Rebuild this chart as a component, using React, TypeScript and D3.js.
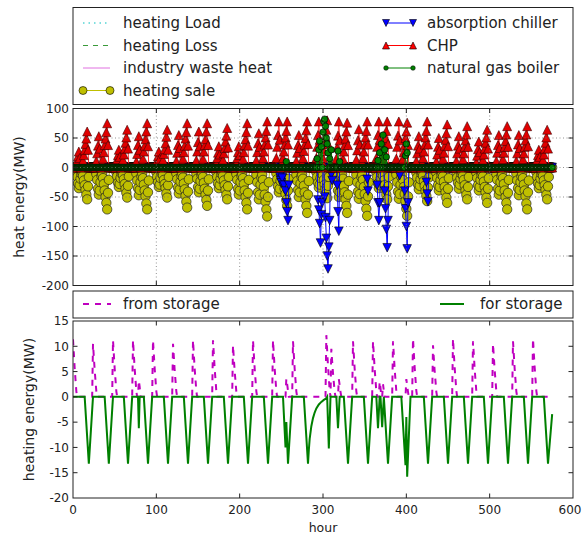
import React from 'react';
import * as d3 from 'd3';

// ---------- data ----------
const HOURS = 576;
const X_TICKS = [0, 100, 200, 300, 400, 500, 600];
const Y_TOP_TICKS = [100, 50, 0, -50, -100, -150, -200];
const Y_BOT_TICKS = [15, 10, 5, 0, -5, -10, -15, -20];

// CHP heat output, one row of 24 hourly values per day (MW)
const CHP_BY_DAY = [
  [0,0,0,0,5,12,19,27,16,0,0,8,12,21,30,40,49,61,30,0,0,0,0,0],
  [0,0,0,0,11,24,37,53,32,0,0,8,15,26,38,49,60,75,38,0,0,0,0,0],
  [0,0,0,0,6,14,21,30,18,0,0,7,13,22,32,42,51,64,32,0,0,0,0,0],
  [0,0,0,0,10,23,38,53,30,0,0,9,15,27,37,48,61,75,36,0,0,0,0,0],
  [0,0,0,0,6,12,19,27,15,0,0,8,13,23,31,41,52,64,30,0,0,0,0,0],
  [0,0,0,0,11,25,38,55,33,0,0,9,15,26,37,49,60,75,37,0,0,0,0,0],
  [0,0,0,0,12,27,43,61,36,0,0,8,15,27,38,48,61,75,38,0,0,0,0,0],
  [0,0,0,0,7,16,25,36,22,0,0,7,13,24,33,44,54,67,34,0,0,0,0,0],
  [0,0,0,0,7,16,26,36,21,0,0,8,15,26,38,48,60,75,37,0,0,0,0,0],
  [0,0,0,0,12,26,41,58,35,0,0,9,16,27,39,51,62,78,39,0,0,0,0,0],
  [0,0,0,0,16,35,55,78,47,0,0,9,16,27,39,51,62,78,39,0,0,0,0,0],
  [0,0,0,0,11,25,38,55,33,0,0,8,16,28,39,50,63,78,40,0,0,0,0,0],
  [0,0,0,0,16,35,55,78,47,0,0,9,16,28,40,52,64,80,40,0,0,0,0,0],
  [0,0,0,0,15,34,54,78,46,0,0,8,15,27,38,49,61,76,38,0,0,0,0,0],
  [0,0,0,0,13,29,46,65,39,0,0,9,16,27,39,51,62,78,39,0,0,0,0,0],
  [0,0,0,0,16,35,55,78,47,0,0,8,16,27,39,50,62,78,40,0,0,0,0,0],
  [0,0,0,0,15,35,54,78,46,0,0,9,15,26,38,50,61,76,38,0,0,0,0,0],
  [0,0,0,0,11,24,37,53,32,0,0,8,16,27,39,51,62,78,39,0,0,0,0,0],
  [0,0,0,0,10,22,35,50,30,0,0,8,15,25,37,47,58,73,36,0,0,0,0,0],
  [0,0,0,0,11,24,37,53,32,0,0,7,14,24,35,46,56,70,35,0,0,0,0,0],
  [0,0,0,0,9,20,31,44,26,0,0,8,13,22,32,42,51,64,32,0,0,0,0,0],
  [0,0,0,0,11,25,38,55,33,0,0,9,14,25,35,45,56,70,35,0,0,0,0,0],
  [0,0,0,0,11,24,39,55,33,0,0,8,14,24,35,46,56,70,36,0,0,0,0,0],
  [0,0,0,0,6,13,21,30,18,0,0,8,13,22,32,42,51,64,32,0,0,0,0,0],
];

// heating sale, one row of 24 hourly values per day (MW)
const SALE_BY_DAY = [
  [0,0,0,0,-8,-16,-27,-35,-30,-19,-11,-8,-14,-22,-30,-38,-46,-54,-32,-16,0,0,0,0],
  [0,0,0,0,-11,-21,-36,-46,-39,-25,-14,-11,-18,-28,-39,-50,-60,-71,-43,-21,0,0,0,0],
  [0,0,0,0,-8,-15,-26,-33,-28,-18,-10,-8,-13,-20,-28,-36,-43,-51,-31,-15,0,0,0,0],
  [0,0,0,0,-10,-22,-35,-47,-38,-25,-15,-10,-18,-29,-39,-49,-61,-71,-42,-22,0,0,0,0],
  [0,0,0,0,-8,-16,-25,-33,-29,-18,-10,-8,-13,-21,-28,-35,-44,-51,-30,-16,0,0,0,0],
  [0,0,0,0,-10,-20,-34,-44,-37,-24,-14,-10,-17,-27,-37,-48,-58,-68,-41,-20,0,0,0,0],
  [0,0,0,0,-10,-19,-33,-42,-36,-23,-13,-10,-16,-26,-36,-46,-55,-65,-39,-20,0,0,0,0],
  [0,0,0,0,-8,-16,-27,-35,-30,-19,-11,-8,-14,-22,-30,-38,-46,-54,-32,-16,0,0,0,0],
  [0,0,0,0,-11,-21,-36,-46,-39,-25,-14,-11,-18,-28,-39,-50,-60,-71,-43,-21,0,0,0,0],
  [0,0,0,0,-12,-25,-42,-54,-46,-29,-17,-12,-21,-33,-46,-58,-71,-83,-50,-25,0,0,0,0],
  [0,0,0,0,-10,-20,-32,-42,-36,-23,-13,-10,-16,-26,-36,-45,-55,-65,-39,-19,0,0,0,0],
  [0,0,0,0,-12,-23,-38,-50,-42,-27,-15,-12,-19,-31,-42,-54,-65,-77,-46,-23,0,0,0,0],
  [0,0,0,0,-8,-16,-26,-34,-29,-18,-10,-8,-13,-21,-29,-36,-44,-52,-31,-16,0,0,0,0],
  [0,0,0,0,-12,-23,-39,-50,-42,-27,-15,-12,-19,-31,-42,-54,-65,-77,-46,-23,0,0,0,0],
  [0,0,0,0,-12,-25,-41,-53,-45,-29,-16,-12,-21,-33,-45,-57,-70,-82,-49,-25,0,0,0,0],
  [0,0,0,0,-8,-16,-27,-35,-30,-19,-11,-8,-14,-22,-30,-38,-46,-54,-32,-16,0,0,0,0],
  [0,0,0,0,-12,-25,-41,-53,-45,-29,-16,-12,-21,-33,-45,-57,-70,-82,-49,-25,0,0,0,0],
  [0,0,0,0,-9,-17,-29,-37,-31,-20,-11,-9,-14,-23,-31,-40,-48,-57,-34,-17,0,0,0,0],
  [0,0,0,0,-9,-18,-30,-39,-33,-21,-12,-9,-15,-24,-33,-42,-51,-60,-36,-18,0,0,0,0],
  [0,0,0,0,-8,-17,-26,-36,-29,-19,-11,-8,-14,-21,-30,-39,-46,-54,-33,-16,0,0,0,0],
  [0,0,0,0,-9,-18,-30,-39,-33,-21,-12,-9,-15,-24,-33,-42,-51,-60,-36,-18,0,0,0,0],
  [0,0,0,0,-11,-21,-36,-46,-39,-25,-14,-11,-18,-28,-39,-50,-60,-71,-43,-21,0,0,0,0],
  [0,0,0,0,-10,-22,-35,-47,-38,-25,-15,-10,-18,-29,-39,-49,-61,-71,-42,-22,0,0,0,0],
  [0,0,0,0,-8,-16,-27,-35,-30,-19,-11,-8,-14,-22,-30,-38,-46,-54,-32,-16,0,0,0,0],
];

// absorption chiller: hours with non-zero values [hour, MW]; zero otherwise
const CHILLER_NONZERO = [
  [247,-8],[248,-15],[249,-22],[250,-26],[251,-18],[253,-30],[255,-40],[256,-60],[257,-75],[258,-90],[259,-30],
  [294,-55],[295,-72],[296,-95],[297,-128],[298,-80],[299,-60],
  [302,-50],[303,-85],[304,-120],[305,-150],[306,-172],[307,-135],[308,-90],
  [310,-12],[311,-22],
  [317,-30],[318,-75],[319,-108],
  [353,-20],[354,-40],
  [365,-30],[366,-60],[367,-90],[368,-60],
  [374,-40],[375,-70],[376,-105],[377,-136],[378,-90],
  [391,-8],[392,-14],
  [398,-40],[399,-70],[400,-100],[401,-138],[402,-60],
  [424,-25],[425,-45],[426,-58],
];

// natural gas boiler: hours with non-zero values [hour, MW]; zero otherwise
const BOILER_NONZERO = [
  [256,10],[293,15],[295,30],[296,45],[298,35],[300,60],[301,78],[302,82],[303,70],[304,50],
  [305,40],[306,25],[308,15],[310,30],[318,28],[320,10],
  [366,12],[368,25],[370,40],[372,55],[374,30],[376,18],
  [399,20],[400,40],[401,25],
];

// heating Load / heating Loss / industry waste heat (flat at zero, hidden)
const LOAD_SERIES = [[0,0],[575,0]];
const LOSS_SERIES = [[0,0],[575,0]];
const WASTE_SERIES = [[0,0],[575,0]];

// storage lines [hour, MW]
const FROM_STORAGE = [
  [0,11.4],[1,8.6],[2,5.7],[3,3.4],[4,1.1],[5,0],
  [23,0],[24,10.5],[25,7.9],[26,5.3],[27,3.2],[28,1.1],[29,0],
  [47,0],[48,11.2],[49,8.4],[50,5.6],[51,3.4],[52,1.1],[53,0],
  [71,0],[72,11.2],[73,8.4],[74,5.6],[75,3.4],[76,1.1],[77,0],
  [78,0],[79,3.2],[80,2],[81,0],
  [95,0],[96,11.2],[97,8.4],[98,5.6],[99,3.4],[100,1.1],[101,0],
  [119,0],[120,10.5],[121,7.9],[122,5.3],[123,3.2],[124,1.1],[125,0],
  [143,0],[144,11.2],[145,8.4],[146,5.6],[147,3.4],[148,1.1],[149,0],
  [167,0],[168,11.2],[169,8.4],[170,5.6],[171,3.4],[172,1.1],[173,0],
  [191,0],[192,10.2],[193,7.6],[194,5.1],[195,3.1],[196,1],[197,0],
  [215,0],[216,11.2],[217,8.4],[218,5.6],[219,3.4],[220,1.1],[221,0],
  [239,0],[240,11.2],[241,8.4],[242,5.6],[243,3.4],[244,1.1],[245,0],
  [255,0],[256,3.6],[257,2.5],[258,1.2],[259,0],
  [263,0],[264,11],[265,8.3],[266,5.5],[267,3.3],[268,1.1],[269,0],
  [303,0],[304,12.2],[305,9.2],[306,6.1],[307,3.7],[308,1.2],[309,0],
  [310,9.5],[311,7],[312,4.7],[313,2.8],[314,1],[315,0],
  [318,0],[319,3.5],[320,2.3],[321,1],[322,0],
  [335,0],[336,11],[337,8.3],[338,5.5],[339,3.3],[340,1.1],[341,0],
  [359,0],[360,11],[361,8.3],[362,5.5],[363,3.3],[364,1.1],[365,0],
  [367,0],[368,3],[369,1.8],[370,0],[371,0],[372,2.5],[373,1.2],[374,0],
  [383,0],[384,11],[385,8.3],[386,5.5],[387,3.3],[388,1.1],[389,0],
  [399,0],[400,3.5],[401,2.2],[402,1],[403,0],
  [407,0],[408,11.5],[409,8.6],[410,5.8],[411,3.5],[412,1.2],[413,0],
  [431,0],[432,10.2],[433,7.6],[434,5.1],[435,3.1],[436,1],[437,0],
  [455,0],[456,11.5],[457,8.6],[458,5.8],[459,3.5],[460,1.2],[461,0],
  [479,0],[480,11],[481,8.3],[482,5.5],[483,3.3],[484,1.1],[485,0],
  [503,0],[504,10.5],[505,7.9],[506,5.3],[507,3.2],[508,1.1],[509,0],
  [527,0],[528,11],[529,8.3],[530,5.5],[531,3.3],[532,1.1],[533,0],
  [551,0],[552,11.5],[553,8.6],[554,5.8],[555,3.5],[556,1.2],[557,0],
  [574,0],
];

const FOR_STORAGE = [
  [0,0],[14,0],[19,-13.2],[24,0],
  [38,0],[43,-13.2],[48,0],
  [61,0],[66,-13.2],[71,0],
  [78,0],[79,-6.2],[80,0],
  [85,0],[90,-13.2],[95,0],
  [109,0],[114,-13.2],[119,0],
  [133,0],[138,-13.2],[143,0],
  [157,0],[162,-13.2],[167,0],
  [181,0],[186,-13.2],[191,0],
  [205,0],[210,-13.2],[215,0],
  [229,0],[234,-13.2],[239,0],
  [252,0],[255,-10],[256,-5],[258,-13.2],[263,0],
  [277,0],[282,-13.2],[283,-10.5],[284,-8.3],[286,-5.8],[288,-4.2],[290,-3.1],[292,-2.3],
  [295,-1.5],[298,-1],[301,-0.6],[304,-0.3],[305,0],[307,-10.2],[309,0],
  [316,0],[318,-6.2],[320,0],
  [325,0],[330,-13.2],[335,0],
  [349,0],[354,-13.2],[359,0],
  [364,0],[366,-6.2],[368,0],
  [369,0],[371,-6],[373,0],[378,-13.2],[383,0],
  [394,0],[399,-13.5],[400,-4],[401,-15.8],[405,0],
  [421,0],[426,-13.2],[431,0],
  [445,0],[450,-13.2],[455,0],
  [469,0],[474,-13.2],[479,0],
  [493,0],[498,-13.2],[503,0],
  [517,0],[522,-13.2],[527,0],
  [541,0],[546,-13.2],[551,0],
  [565,0],[570,-13.2],[575,-3.4],
];

// ---------- styles ----------
const FONT = '"DejaVu Sans", sans-serif';
const C_YEL = '#bfbf00';
const C_RED = '#ff0000';
const C_BLUE = '#0000ff';
const C_GREEN = '#008000';
const C_CYAN = '#00bfbf';
const C_MAG = '#bf00bf';

const X0 = 73, X1 = 573;
const TOP_Y0 = 108.5, TOP_Y1 = 285.5;
const BOT_Y0 = 321, BOT_Y1 = 498;

function triUp(cx: number, cy: number, s: number) {
  return `M${cx},${cy - s}L${cx - s},${cy + s}L${cx + s},${cy + s}Z`;
}
function triDown(cx: number, cy: number, s: number) {
  return `M${cx},${cy + s}L${cx - s},${cy - s}L${cx + s},${cy - s}Z`;
}

export default function App() {
  const x = d3.scaleLinear().domain([0, 600]).range([X0, X1]);
  const yT = d3.scaleLinear().domain([-200, 100]).range([TOP_Y1, TOP_Y0]);
  const yB = d3.scaleLinear().domain([-20, 15]).range([BOT_Y1, BOT_Y0]);

  const chp = CHP_BY_DAY.flat().map((v, i) => [i, v]);
  const sale = SALE_BY_DAY.flat().map((v, i) => [i, v]);
  const chMap = new Map(CHILLER_NONZERO.map(([h, v]) => [h, v]));
  const boMap = new Map(BOILER_NONZERO.map(([h, v]) => [h, v]));
  const chiller = d3.range(HOURS).map((h) => [h, chMap.get(h) ?? 0]);
  const boiler = d3.range(HOURS).map((h) => [h, boMap.get(h) ?? 0]);

  const lineT = d3.line<number[]>().x((d) => x(d[0])).y((d) => yT(d[1]));
  const lineB = d3.line<number[]>().x((d) => x(d[0])).y((d) => yB(d[1]));

  const tick = 4.5;

  const frame = (y0: number, y1: number, yScale: any, yticks: number[], grid: boolean, key: string) => (
    <g key={key}>
      {grid && (
        <g stroke="#777" strokeWidth={0.8} strokeDasharray="1,2.5">
          {X_TICKS.slice(1, -1).map((t) => (
            <line key={'gx' + t} x1={x(t)} x2={x(t)} y1={y0} y2={y1} />
          ))}
          {yticks.slice(1, -1).map((t) => (
            <line key={'gy' + t} x1={X0} x2={X1} y1={yScale(t)} y2={yScale(t)} />
          ))}
        </g>
      )}
      <rect x={X0} y={y0} width={X1 - X0} height={y1 - y0} fill="none" stroke="#222" strokeWidth={1} />
      <g stroke="#222" strokeWidth={1}>
        {X_TICKS.slice(1, -1).map((t) => (
          <g key={'tx' + t}>
            <line x1={x(t)} x2={x(t)} y1={y1} y2={y1 - tick} />
            <line x1={x(t)} x2={x(t)} y1={y0} y2={y0 + tick} />
          </g>
        ))}
        {yticks.slice(1, -1).map((t) => (
          <g key={'ty' + t}>
            <line x1={X0} x2={X0 + tick} y1={yScale(t)} y2={yScale(t)} />
            <line x1={X1} x2={X1 - tick} y1={yScale(t)} y2={yScale(t)} />
          </g>
        ))}
      </g>
      <g fontFamily={FONT} fontSize={12} fill="#222" textAnchor="end">
        {yticks.map((t) => (
          <text key={'ly' + t} x={X0 - 4} y={yScale(t) + 4.3}>
            {t < 0 ? '-' + Math.abs(t) : String(t)}
          </text>
        ))}
      </g>
    </g>
  );

  return (
    <div style={{ position: 'absolute', left: 0, top: 0 }}>
      <svg width={582} height={535} viewBox="0 0 582 535" style={{ display: 'block', background: '#fff' }}>
        <defs>
          <clipPath id="clipTop">
            <rect x={X0} y={TOP_Y0} width={X1 - X0} height={TOP_Y1 - TOP_Y0} />
          </clipPath>
          <clipPath id="clipBot">
            <rect x={X0} y={BOT_Y0} width={X1 - X0} height={BOT_Y1 - BOT_Y0} />
          </clipPath>
        </defs>
        <rect x={0} y={0} width={582} height={535} fill="#fff" />

        {/* ---------- top axes data ---------- */}
        <g clipPath="url(#clipTop)">
          <path d={lineT(LOAD_SERIES) || ''} fill="none" stroke={C_CYAN} strokeWidth={1} strokeDasharray="4,2,1,2" />
          <path d={lineT(LOSS_SERIES) || ''} fill="none" stroke={C_GREEN} strokeWidth={1} strokeDasharray="5,5" />
          <path d={lineT(WASTE_SERIES) || ''} fill="none" stroke={C_MAG} strokeWidth={1} />

          <path d={lineT(sale) || ''} fill="none" stroke={C_YEL} strokeWidth={1} />
          <g fill={C_YEL} stroke="#222" strokeWidth={0.7}>
            {sale.map((d) => (
              <circle key={'s' + d[0]} cx={x(d[0])} cy={yT(d[1])} r={4.7} />
            ))}
          </g>

          <path d={lineT(chiller) || ''} fill="none" stroke={C_BLUE} strokeWidth={1} />
          <g fill={C_BLUE} stroke="#000" strokeWidth={0.6}>
            {chiller.map((d) => (
              <path key={'c' + d[0]} d={triDown(x(d[0]), yT(d[1]), 4.3)} />
            ))}
          </g>

          <path d={lineT(chp) || ''} fill="none" stroke="#ff3030" strokeWidth={1} />
          <g fill="#e00000" stroke="#400000" strokeWidth={0.6}>
            {chp.map((d) => (
              <path key={'p' + d[0]} d={triUp(x(d[0]), yT(d[1]), 4.5)} />
            ))}
          </g>

          <path d={lineT(boiler) || ''} fill="none" stroke={C_GREEN} strokeWidth={1} />
          <g fill={C_GREEN} stroke="#000" strokeWidth={0.7}>
            {boiler.map((d) => (
              <circle key={'b' + d[0]} cx={x(d[0])} cy={yT(d[1])} r={3.2} />
            ))}
          </g>
        </g>
        {frame(TOP_Y0, TOP_Y1, yT, Y_TOP_TICKS, true, 'ftop')}

        {/* ---------- bottom axes data ---------- */}
        <g clipPath="url(#clipBot)">
          <path d={lineB(FROM_STORAGE) || ''} fill="none" stroke={C_MAG} strokeWidth={2} strokeDasharray="6,6" />
          <path d={lineB(FOR_STORAGE) || ''} fill="none" stroke={C_GREEN} strokeWidth={2} />
        </g>
        {frame(BOT_Y0, BOT_Y1, yB, Y_BOT_TICKS, false, 'fbot')}

        {/* x tick labels */}
        <g fontFamily={FONT} fontSize={12} fill="#222" textAnchor="middle">
          {X_TICKS.map((t) => (
            <text key={'lx' + t} x={t === 600 ? x(t) - 3 : x(t)} y={514}>{t}</text>
          ))}
        </g>
        <text x={(X0 + X1) / 2} y={532} fontFamily={FONT} fontSize={12.5} fill="#222" textAnchor="middle">hour</text>

        {/* y labels */}
        <text transform={`translate(24,${(TOP_Y0 + TOP_Y1) / 2}) rotate(-90)`} fontFamily={FONT} fontSize={14} fill="#222" textAnchor="middle">heat energy(MW)</text>
        <text transform={`translate(34,${(BOT_Y0 + BOT_Y1) / 2}) rotate(-90)`} fontFamily={FONT} fontSize={14} fill="#222" textAnchor="middle">heating energy(MW)</text>

        {/* ---------- top legend ---------- */}
        <g>
          <rect x={X0} y={7.5} width={X1 - X0} height={97} fill="#fff" stroke="#222" strokeWidth={1} />
          <g fontFamily={FONT} fontSize={15} fill="#222">
            <line x1={83} x2={110} y1={23} y2={23} stroke={C_CYAN} strokeWidth={1} strokeDasharray="1.5,4" />
            <text x={123} y={28}>heating Load</text>
            <line x1={83} x2={110} y1={45.5} y2={45.5} stroke="#3a9a3a" strokeWidth={1} strokeDasharray="5,5" />
            <text x={123} y={50.5}>heating Loss</text>
            <line x1={83} x2={110} y1={68} y2={68} stroke="#e070e0" strokeWidth={1} />
            <text x={123} y={73}>industry waste heat</text>
            <line x1={83} x2={110} y1={90.5} y2={90.5} stroke={C_YEL} strokeWidth={1} />
            <circle cx={83} cy={90.5} r={4} fill={C_YEL} stroke="#000" strokeWidth={0.6} />
            <circle cx={110} cy={90.5} r={4} fill={C_YEL} stroke="#000" strokeWidth={0.6} />
            <text x={123} y={95.5}>heating sale</text>

            <line x1={386} x2={413} y1={23} y2={23} stroke={C_BLUE} strokeWidth={1} />
            <path d={triDown(386, 23, 3.5)} fill={C_BLUE} stroke="#000" strokeWidth={0.6} />
            <path d={triDown(413, 23, 3.5)} fill={C_BLUE} stroke="#000" strokeWidth={0.6} />
            <text x={427} y={28}>absorption chiller</text>
            <line x1={386} x2={413} y1={45.5} y2={45.5} stroke={C_RED} strokeWidth={1} />
            <path d={triUp(386, 45.5, 3.5)} fill={C_RED} stroke="#000" strokeWidth={0.6} />
            <path d={triUp(413, 45.5, 3.5)} fill={C_RED} stroke="#000" strokeWidth={0.6} />
            <text x={427} y={50.5}>CHP</text>
            <line x1={386} x2={413} y1={68} y2={68} stroke={C_GREEN} strokeWidth={1} />
            <circle cx={386} cy={68} r={2.3} fill={C_GREEN} stroke="#000" strokeWidth={0.5} />
            <circle cx={413} cy={68} r={2.3} fill={C_GREEN} stroke="#000" strokeWidth={0.5} />
            <text x={427} y={73}>natural gas boiler</text>
          </g>
        </g>

        {/* ---------- bottom legend ---------- */}
        <g>
          <rect x={X0} y={291} width={X1 - X0} height={27} fill="#fff" stroke="#222" strokeWidth={1} />
          <g fontFamily={FONT} fontSize={15} fill="#222">
            <line x1={83} x2={111} y1={304} y2={304} stroke={C_MAG} strokeWidth={2} strokeDasharray="6,6" />
            <text x={123} y={309}>from storage</text>
            <line x1={440} x2={464} y1={304} y2={304} stroke={C_GREEN} strokeWidth={2} />
            <text x={480} y={309}>for storage</text>
          </g>
        </g>
      </svg>
    </div>
  );
}
